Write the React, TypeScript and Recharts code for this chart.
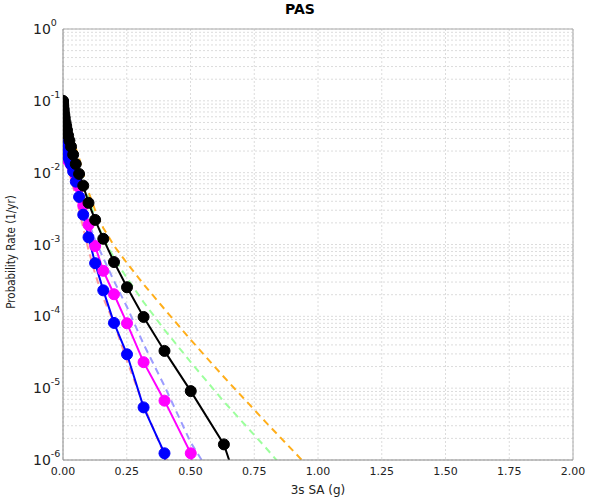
import React from "react";
import { LineChart, Line, XAxis, YAxis, CartesianGrid, ReferenceLine } from "recharts";

// ground motion levels (g), shared by every curve
const xValues = [
  0.0001, 0.0002, 0.0005, 0.001, 0.002, 0.003, 0.005, 0.007, 0.01, 0.0126, 0.0158, 0.02, 0.0251, 0.0316,
  0.0398, 0.0501, 0.0631, 0.0794, 0.1, 0.126, 0.158, 0.2, 0.251, 0.316, 0.398, 0.501, 0.631, 0.794, 1.0,
];

const blackCurve = [
  0.1, 0.097, 0.093, 0.087, 0.079, 0.073, 0.065, 0.058, 0.05, 0.0445, 0.039, 0.033, 0.028, 0.023,
  0.0178, 0.0132, 0.0096, 0.0066, 0.0038, 0.0022, 0.0012, 5.7e-4, 2.54e-4, 9.8e-5, 3.3e-5, 9.1e-6, 1.65e-6, 3e-8, null,
];
const magentaCurve = [
  0.019, 0.0189, 0.0188, 0.0186, 0.0183, 0.018, 0.0175, 0.017, 0.0165, 0.016, 0.0155, 0.0148, 0.014, 0.0128,
  0.0113, 0.0092, 0.0063, 0.0035, 0.00187, 9.5e-4, 4.3e-4, 2.03e-4, 8.0e-5, 2.3e-5, 6.7e-6, 1.24e-6, 1e-10, null, null,
];
const blueCurve = [
  0.029, 0.0287, 0.0283, 0.0277, 0.0267, 0.0258, 0.0243, 0.023, 0.0212, 0.0198, 0.0183, 0.0167, 0.0149, 0.013,
  0.0104, 0.0075, 0.0046, 0.0026, 0.00126, 5.5e-4, 2.3e-4, 8.1e-5, 2.96e-5, 5.4e-6, 1.24e-6, 1e-10, null, null, null,
];
const salmonCurve = [
  0.031, 0.031, 0.0308, 0.0305, 0.029, 0.0285, 0.026, 0.0235, 0.0207, 0.0176, 0.015, 0.0128, 0.0102, 0.0079,
  0.0063, 0.0046, 0.003, 0.0017, 8.4e-4, 3.9e-4, 1.8e-4, 8.1e-5, 2.4e-5, 5.8e-6, 1.17e-6, 2e-7, null, null, null,
];
const lightBlueCurve = [
  0.034, 0.034, 0.0335, 0.033, 0.032, 0.031, 0.03, 0.029, 0.027, 0.025, 0.023, 0.021, 0.019, 0.016,
  0.013, 0.0095, 0.0061, 0.0036, 0.0021, 0.00115, 6.5e-4, 3.1e-4, 1.35e-4, 4.1e-5, 1.07e-5, 1.75e-6, 3.2e-7, null, null,
];
const greenCurve = [
  0.097, 0.096, 0.093, 0.089, 0.083, 0.079, 0.072, 0.066, 0.06, 0.055, 0.049, 0.043, 0.037, 0.031,
  0.025, 0.019, 0.0128, 0.0079, 0.0044, 0.00234, 0.00123, 6.5e-4, 3.4e-4, 1.58e-4, 6.5e-5, 2.3e-5, 6.5e-6, 1.5e-6, 2.15e-7,
];
const orangeCurve = [
  0.1, 0.1, 0.098, 0.095, 0.091, 0.088, 0.082, 0.076, 0.07, 0.064, 0.058, 0.052, 0.044, 0.036,
  0.029, 0.022, 0.016, 0.0095, 0.0054, 0.003, 0.0017, 9.6e-4, 5.5e-4, 2.8e-4, 1.26e-4, 4.7e-5, 1.43e-5, 3.4e-6, 5.8e-7,
];

const xTicks = [0, 0.25, 0.5, 0.75, 1.0, 1.25, 1.5, 1.75, 2.0];
const decades = [1e-6, 1e-5, 1e-4, 1e-3, 1e-2, 1e-1, 1];
const decadeExp = ["-6", "-5", "-4", "-3", "-2", "-1", "0"];

// grid lines at 1..9 x each decade
const yTicks: number[] = [];
decades.forEach((d, i) => {
  yTicks.push(d);
  if (i < decades.length - 1) for (let m = 2; m <= 9; m++) yTicks.push(d * m);
});

const data = xValues.map((x, i) => ({
  x,
  black: blackCurve[i],
  magenta: magentaCurve[i],
  blue: blueCurve[i],
  salmon: salmonCurve[i],
  lightBlue: lightBlueCurve[i],
  green: greenCurve[i],
  orange: orangeCurve[i],
}));

const FONT = "DejaVu Sans";

function YTick(props: any) {
  const { x, y, payload } = props;
  const idx = decades.indexOf(payload.value);
  if (idx < 0) return <g />;
  return (
    <text x={x - 30} y={y + 5} fontFamily={FONT} fontSize={14} fill="#222" textAnchor="start">
      10
      <tspan dy={-8} fontSize={9.5}>
        {decadeExp[idx]}
      </tspan>
    </text>
  );
}

const dashed = { strokeWidth: 2, strokeDasharray: "7 5", dot: false, isAnimationActive: false } as const;

export default function App() {
  return (
    <div style={{ position: "absolute", left: 0, top: 0, width: 600, height: 500, background: "#fff" }}>
      <LineChart width={600} height={500} data={data} margin={{ top: 29, right: 27, bottom: 10, left: 3 }}>
        <CartesianGrid stroke="#dcdcdc" strokeDasharray="2 2" />
        <XAxis
          dataKey="x"
          type="number"
          domain={[0, 2]}
          allowDataOverflow
          ticks={xTicks}
          tickFormatter={(v: number) => v.toFixed(2)}
          tickLine={false}
          tickSize={0}
          tickMargin={7}
          height={30}
          axisLine={{ stroke: "#888" }}
          tick={{ fontFamily: FONT, fontSize: 11, fill: "#222" }}
        />
        <YAxis
          scale="log"
          domain={[1e-6, 1]}
          allowDataOverflow
          ticks={yTicks}
          interval={0}
          width={60}
          tickLine={false}
          tickSize={0}
          tickMargin={0}
          axisLine={{ stroke: "#888" }}
          tick={<YTick />}
        />
        <ReferenceLine y={1} stroke="#aaa" />
        <ReferenceLine x={2} stroke="#aaa" />
        <Line dataKey="salmon" stroke="#ff9c9c" {...dashed} />
        <Line dataKey="lightBlue" stroke="#9c9cff" {...dashed} />
        <Line dataKey="green" stroke="#9cff9c" {...dashed} />
        <Line dataKey="orange" stroke="#ffae1a" {...dashed} />
        <Line
          dataKey="magenta"
          stroke="#ff00ff"
          strokeWidth={2}
          dot={{ r: 5.5, fill: "#ff00ff", stroke: "#ff00ff", strokeWidth: 1 }}
          isAnimationActive={false}
        />
        <Line
          dataKey="blue"
          stroke="#0000ff"
          strokeWidth={2}
          dot={{ r: 5.5, fill: "#0000ff", stroke: "#0000ff", strokeWidth: 1 }}
          isAnimationActive={false}
        />
        <Line
          dataKey="black"
          stroke="#000"
          strokeWidth={2}
          dot={{ r: 5.5, fill: "#000", stroke: "#000", strokeWidth: 1 }}
          isAnimationActive={false}
        />
      </LineChart>
      <svg width={600} height={500} style={{ position: "absolute", left: 0, top: 0, pointerEvents: "none" }}>
        <text x={300} y={14} textAnchor="middle" fontFamily={FONT} fontSize={14} fontWeight="bold" fill="#000">
          PAS
        </text>
        <text x={318} y={494} textAnchor="middle" fontFamily={FONT} fontSize={12} fill="#222">
          3s SA (g)
        </text>
        <text
          transform="translate(15,252) rotate(-90)"
          textAnchor="middle"
          fontFamily="DejaVu Sans Condensed"
          fontSize={11.5}
          fill="#222"
        >
          Probability Rate (1/yr)
        </text>
      </svg>
    </div>
  );
}
